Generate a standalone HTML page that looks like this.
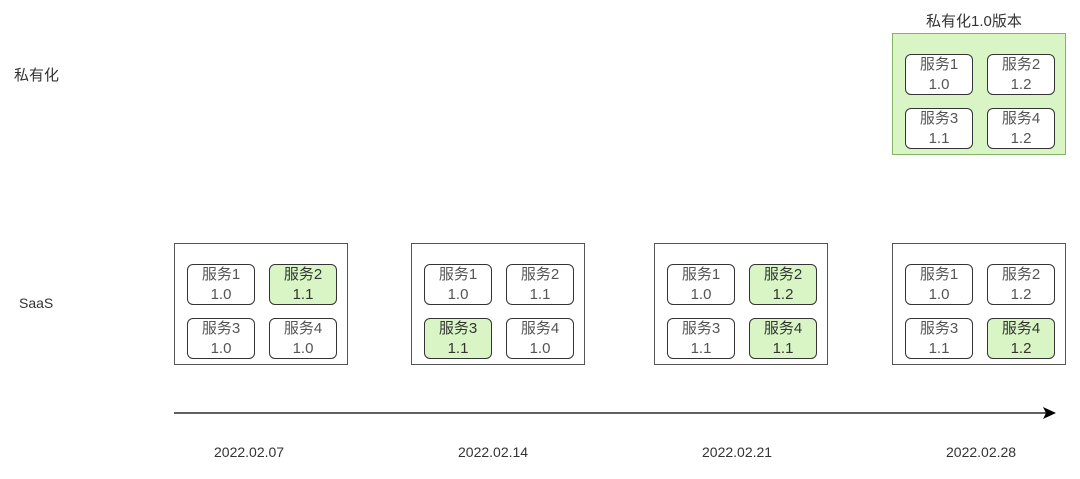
<!DOCTYPE html>
<html><head><meta charset="utf-8"><style>
body{margin:0;width:1080px;height:479px;background:#fff;position:relative;overflow:hidden;font-family:"Liberation Sans","Noto Sans CJK SC",sans-serif;color:#333}
.o{position:absolute;width:174px;height:122px;border:1px solid #555;box-sizing:border-box;background:#fff}
.g{background:#d9f5c5;border-color:#82b366}
.i{position:absolute;width:68px;height:41px;border:1px solid #333;border-radius:6px;box-sizing:border-box;background:#fff;font-size:15px;line-height:20px;text-align:center;color:#555;padding-top:0px}
.i.h{background:#d9f5c5;color:#333}
.t{position:absolute;font-size:14px;color:#333;white-space:nowrap}
</style></head><body>
<div class="t" style="left:14px;top:64px;font-size:15px">私有化</div>
<div class="t" style="left:19px;top:295px">SaaS</div>
<div class="t" style="left:926px;top:10px;font-size:15px">私有化1.0版本</div>

<div class="o g" style="left:892px;top:33px">
<div class="i" style="left:12px;top:20px">服务1<br>1.0</div><div class="i" style="left:94px;top:20px">服务2<br>1.2</div>
<div class="i" style="left:12px;top:74px">服务3<br>1.1</div><div class="i" style="left:94px;top:74px">服务4<br>1.2</div></div>

<div class="o" style="left:174px;top:243px">
<div class="i" style="left:12px;top:20px">服务1<br>1.0</div><div class="i h" style="left:94px;top:20px">服务2<br>1.1</div>
<div class="i" style="left:12px;top:74px">服务3<br>1.0</div><div class="i" style="left:94px;top:74px">服务4<br>1.0</div></div>

<div class="o" style="left:411px;top:243px">
<div class="i" style="left:12px;top:20px">服务1<br>1.0</div><div class="i" style="left:94px;top:20px">服务2<br>1.1</div>
<div class="i h" style="left:12px;top:74px">服务3<br>1.1</div><div class="i" style="left:94px;top:74px">服务4<br>1.0</div></div>

<div class="o" style="left:654px;top:243px">
<div class="i" style="left:12px;top:20px">服务1<br>1.0</div><div class="i h" style="left:94px;top:20px">服务2<br>1.2</div>
<div class="i" style="left:12px;top:74px">服务3<br>1.1</div><div class="i h" style="left:94px;top:74px">服务4<br>1.1</div></div>

<div class="o" style="left:892px;top:243px">
<div class="i" style="left:12px;top:20px">服务1<br>1.0</div><div class="i" style="left:94px;top:20px">服务2<br>1.2</div>
<div class="i" style="left:12px;top:74px">服务3<br>1.1</div><div class="i h" style="left:94px;top:74px">服务4<br>1.2</div></div>

<svg style="position:absolute;left:0;top:0" width="1080" height="479">
<line x1="174" y1="413" x2="1046" y2="413" stroke="#000" stroke-width="1.3"/>
<polygon points="1056,413 1043,407 1046,413 1043,419" fill="#000"/>
</svg>
<div class="t" style="left:214px;top:444px">2022.02.07</div>
<div class="t" style="left:458px;top:444px">2022.02.14</div>
<div class="t" style="left:702px;top:444px">2022.02.21</div>
<div class="t" style="left:946px;top:444px">2022.02.28</div>
</body></html>
